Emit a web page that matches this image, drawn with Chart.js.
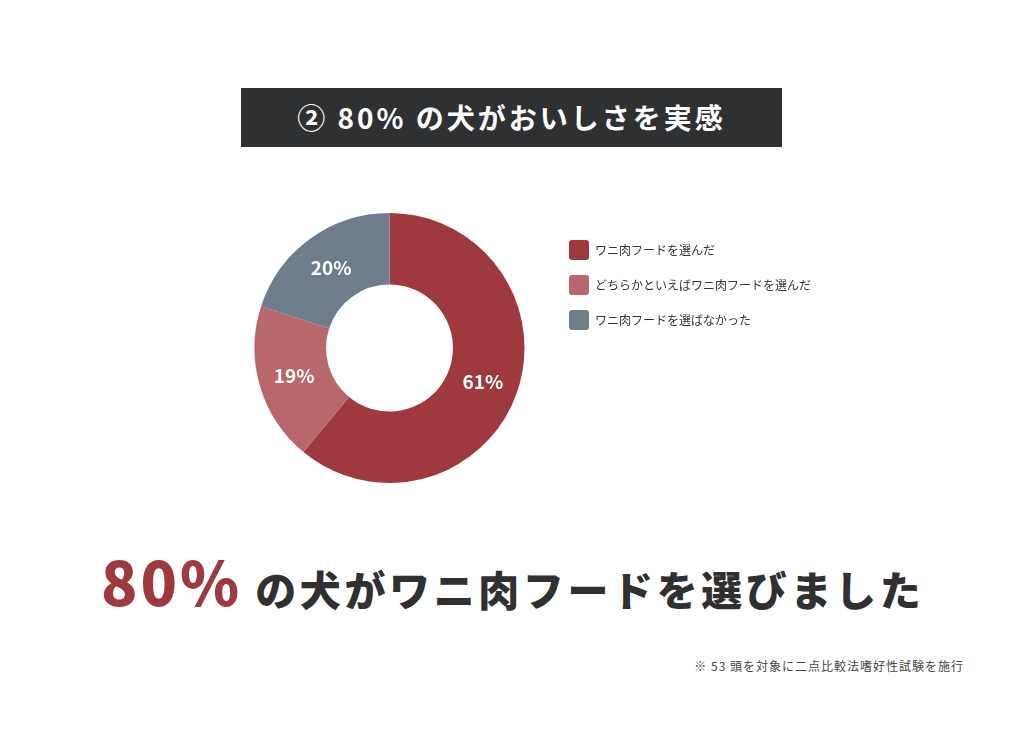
<!DOCTYPE html>
<html lang="ja">
<head>
<meta charset="utf-8">
<script src="https://cdn.jsdelivr.net/npm/chart.js@4"></script>
<style>
  html, body { margin: 0; padding: 0; background: #fff; }
  body { width: 1024px; height: 730px; position: relative; overflow: hidden; font-family: 'Noto Sans CJK JP', 'Noto Sans', sans-serif; }
  .title {
    position: absolute; left: 241px; top: 88px; width: 541px; height: 59px;
    background: #2f3032; color: #fff; font-weight: 700; font-size: 28px;
    letter-spacing: 3px; line-height: 59px; text-align: center;
  }
  .wrap { position: absolute; left: 225px; top: 213px; width: 596px; height: 270px; }
  .headline {
    position: absolute; left: 101px; top: 536px; width: 880px; white-space: nowrap;
    font-weight: 900; color: #303030; font-size: 41px; letter-spacing: 3.6px;
  }
  .headline .big { color: #9e3a3f; font-size: 60px; letter-spacing: 3px; }
  .note {
    position: absolute; right: 60px; top: 657px; font-size: 12px; color: #444;
    letter-spacing: 1px;
  }
</style>
</head>
<body>
<div class="title">② 80% の犬がおいしさを実感</div>
<div class="wrap"><canvas id="pieChart"></canvas></div>
<div class="headline"><span class="big">80%</span> の犬がワニ肉フードを選びました</div>
<div class="note">※ 53 頭を対象に二点比較法嗜好性試験を施行</div>
<script>
const categories = ['ワニ肉フードを選んだ', 'どちらかといえばワニ肉フードを選んだ', 'ワニ肉フードを選ばなかった'];
const shares = [61, 19, 20];
const colors = ['#9e3a3f', '#b8676b', '#6f7c8c'];

// percentage text inside each slice
const sliceLabels = {
  id: 'sliceLabels',
  afterDatasetsDraw(chart) {
    const ctx = chart.ctx;
    const meta = chart.getDatasetMeta(0);
    ctx.save();
    ctx.fillStyle = '#fff';
    ctx.font = "bold 19px 'Noto Sans CJK JP'";
    ctx.textAlign = 'center';
    ctx.textBaseline = 'middle';
    meta.data.forEach((arc, i) => {
      const p = arc.tooltipPosition();
      ctx.fillText(shares[i] + '%', p.x, p.y);
    });
    ctx.restore();
  }
};

const ctx = document.getElementById('pieChart').getContext('2d');
new Chart(ctx, {
  type: 'doughnut',
  data: {
    labels: categories,
    datasets: [{
      data: shares,
      backgroundColor: colors,
      borderWidth: 0,
      cutout: '47%'
    }]
  },
  options: {
    responsive: true,
    maintainAspectRatio: false,
    animation: false,
    layout: { padding: 0 },
    plugins: {
      tooltip: { enabled: false },
      legend: {
        position: 'right',
        align: 'start',
        title: { display: true, text: '', font: { size: 10 }, padding: 0 },
        labels: {
          boxWidth: 20,
          boxHeight: 20,
          padding: 15,
          useBorderRadius: true,
          borderRadius: 3,
          color: '#333',
          font: { family: "'Noto Sans CJK JP'", size: 12 }
        }
      }
    }
  },
  plugins: [sliceLabels]
});
</script>
</body>
</html>
